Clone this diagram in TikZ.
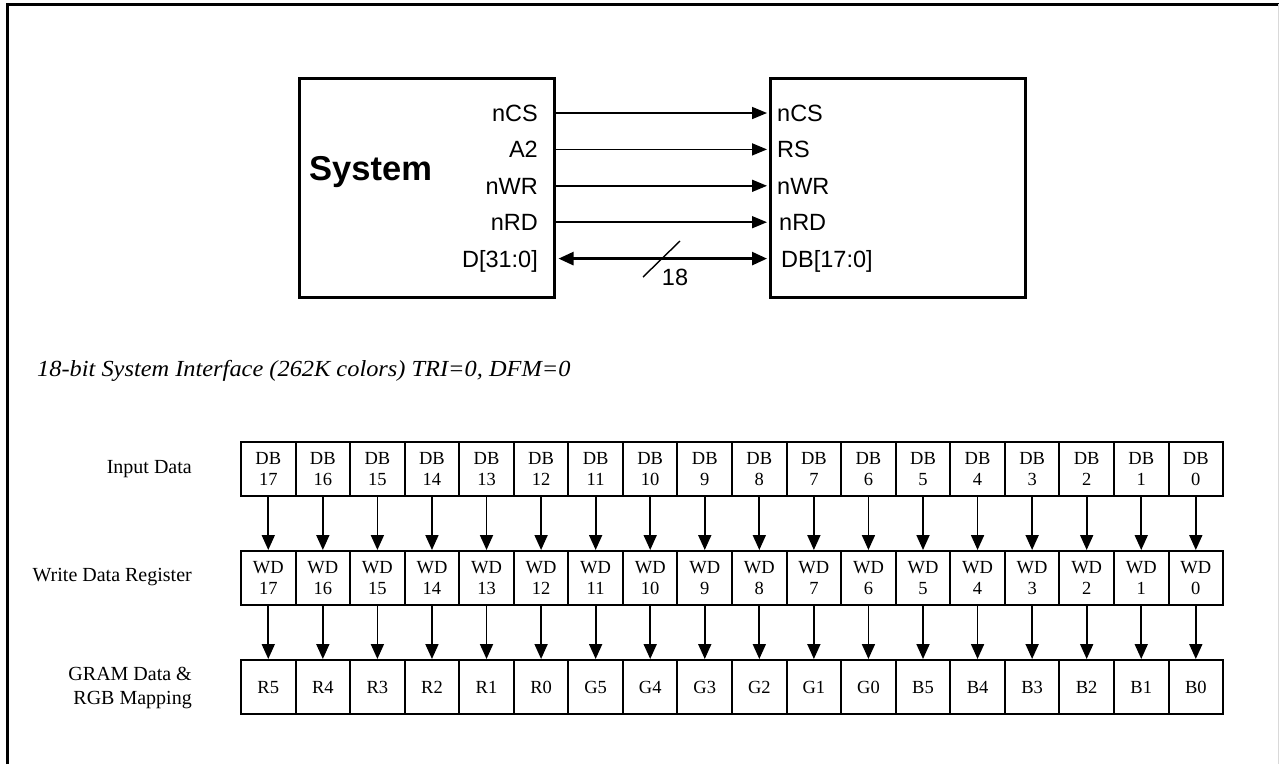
\documentclass[tikz,border=0pt]{standalone}
\usepackage{fontspec}
\setmainfont{Liberation Serif}
\newfontfamily\arial{Liberation Sans}
\usetikzlibrary{arrows.meta}
\begin{document}
\begin{tikzpicture}[x=1pt,y=-1pt,
  blk/.style={draw, line width=2.5pt, minimum width=255pt, minimum height=219pt, anchor=north west, inner sep=0pt},
  siglbl/.style={font=\arial\fontsize{23.5}{26}\selectfont, inner sep=0pt},
  sigline/.style={line width=1.6pt, -{Triangle[length=15pt,width=12pt]}},
  busline/.style={line width=2.6pt, {Triangle[length=15pt,width=13pt]}-{Triangle[length=15pt,width=13pt]}},
  cell/.style={draw, line width=2pt, minimum width=54.56pt, minimum height=54pt, inner sep=0pt, align=center, anchor=north west, font=\fontsize{18.5}{20.5}\selectfont},
  onecell/.style={cell, text height=13pt, text depth=0pt},
  rowlbl/.style={inner sep=0pt, align=right, anchor=east, font=\fontsize{20}{23}\selectfont},
  down/.style={line width=1.8pt, -{Triangle[length=15pt,width=13pt]}}
]
\useasboundingbox (0,0) rectangle (1279,764);
% outer frame
\draw[line width=3pt] (7,764) -- (7,4) -- (1279,4);
\draw[gray!30, line width=1pt] (1278.5,4) -- (1278.5,764);

% blocks
\node[blk] (sys) at (298,77) {};
\node[blk] (dev) at (769,77) {};
\node[font=\arial\bfseries\fontsize{34.5}{38}\selectfont, inner sep=0pt, anchor=base west] (systxt) at (309,180) {System};

% left labels
\node[siglbl, anchor=base east] (lcs) at (538,121.5) {nCS};
\node[siglbl, anchor=base east] (la2) at (538,157.9) {A2};
\node[siglbl, anchor=base east] (lwr) at (538,194.3) {nWR};
\node[siglbl, anchor=base east] (lrd) at (538,230.7) {nRD};
\node[siglbl, anchor=base east] (ld) at (538,267.1) {D[31:0]};
% right labels
\node[siglbl, anchor=base west] (rcs) at (777,121.5) {nCS};
\node[siglbl, anchor=base west] (rrs) at (777,157.9) {RS};
\node[siglbl, anchor=base west] (rwr) at (777,194.3) {nWR};
\node[siglbl, anchor=base west] (rrd) at (779,230.7) {nRD};
\node[siglbl, anchor=base west] (rdb) at (781,267.1) {DB[17:0]};

\coordinate (y1) at (0,113);
\coordinate (y2) at (0,149.4);
\coordinate (y3) at (0,185.8);
\coordinate (y4) at (0,222.2);
\coordinate (y5) at (0,258.6);
\draw[sigline] (sys.east |- y1) -- ([xshift=-2pt]dev.west |- y1);
\draw[sigline] (sys.east |- y2) -- ([xshift=-2pt]dev.west |- y2);
\draw[sigline] (sys.east |- y3) -- ([xshift=-2pt]dev.west |- y3);
\draw[sigline] (sys.east |- y4) -- ([xshift=-2pt]dev.west |- y4);
\draw[busline] ([xshift=3pt]sys.east |- y5) -- ([xshift=-2pt]dev.west |- y5);
\coordinate (sl1) at (643,277);
\coordinate (sl2) at (680,241);
\draw[line width=1.4pt] (sl1) -- (sl2);
\node[siglbl] (n18) at (675,277) {18};

% title
\node[inner sep=0pt, anchor=base west] (title) at (37,376) {\scalebox{1.06}[1]{\itshape\fontsize{23}{26}\selectfont 18-bit System Interface (262K colors) TRI=0, DFM=0}};

% row labels
\node[rowlbl] (lin) at (192,469) {Input Data};
\node[rowlbl] (lwd) at (192,577) {Write Data Register};
\node[rowlbl, font=\fontsize{20}{24.5}\selectfont] (lgr) at (192,688) {GRAM Data \&\\RGB Mapping};

% cells
\foreach \i/\g in {0/R5,1/R4,2/R3,3/R2,4/R1,5/R0,6/G5,7/G4,8/G3,9/G2,10/G1,11/G0,12/B5,13/B4,14/B3,15/B2,16/B1,17/B0}{
  \pgfmathtruncatemacro\bit{17-\i}
  \node[cell] (a\i) at (240+\i*54.56,441) {DB\\\bit};
  \node[cell] (b\i) at (240+\i*54.56,550) {WD\\\bit};
  \node[onecell] (c\i) at (240+\i*54.56,659) {\g};
  \draw[down] (a\i.south) -- (b\i.north);
  \draw[down] (b\i.south) -- (c\i.north);
}
\end{tikzpicture}
\end{document}
